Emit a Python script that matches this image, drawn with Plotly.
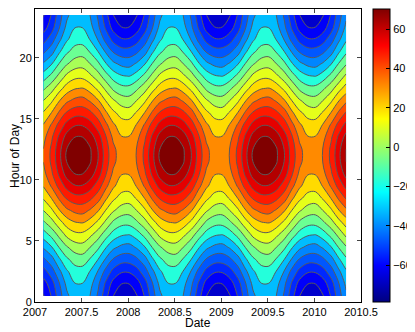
import plotly.graph_objects as go

# sample dates (decimal years), one per month
dates = [2007.09, 2007.18, 2007.26, 2007.34, 2007.43, 2007.51, 2007.59, 2007.68,
         2007.76, 2007.84, 2007.93, 2008.01, 2008.09, 2008.18, 2008.26, 2008.34,
         2008.43, 2008.51, 2008.59, 2008.68, 2008.76, 2008.84, 2008.93, 2009.01,
         2009.09, 2009.18, 2009.26, 2009.34, 2009.43, 2009.51, 2009.59, 2009.68,
         2009.76, 2009.84, 2009.93, 2010.01, 2010.09, 2010.18, 2010.26, 2010.34]

hours = [0.5, 1.5, 2.5, 3.5, 4.5, 5.5, 6.5, 7.5, 8.5, 9.5, 10.5, 11.5,
         12.5, 13.5, 14.5, 15.5, 16.5, 17.5, 18.5, 19.5, 20.5, 21.5, 22.5, 23.5]

# daily profile for each month of the year (Feb ... Jan), one value per hour
feb = [-63, -58, -49, -39, -28, -17, -6, 4, 13, 21, 26, 29, 29, 26, 21, 13, 4, -6, -17, -28, -39, -49, -58, -63]
mar = [-53, -49, -41, -32, -21, -10, 1, 11, 21, 30, 36, 39, 39, 36, 30, 21, 11, 1, -10, -21, -32, -41, -49, -53]
apr = [-41, -38, -31, -22, -12, -2, 9, 20, 30, 40, 47, 51, 51, 47, 40, 30, 20, 9, -2, -12, -22, -31, -38, -41]
may = [-31, -27, -22, -14, -5, 6, 16, 27, 38, 48, 57, 62, 62, 57, 48, 38, 27, 16, 6, -5, -14, -22, -27, -31]
jun = [-24, -21, -16, -9, 0, 10, 20, 31, 42, 53, 62, 68, 68, 62, 53, 42, 31, 20, 10, 0, -9, -16, -21, -24]
jul = [-24, -21, -16, -8, 1, 10, 21, 32, 42, 53, 62, 69, 69, 62, 53, 42, 32, 21, 10, 1, -8, -16, -21, -24]
aug = [-29, -26, -21, -13, -4, 6, 17, 28, 39, 49, 58, 63, 63, 58, 49, 39, 28, 17, 6, -4, -13, -21, -26, -29]
sep = [-39, -36, -30, -21, -11, -1, 10, 21, 32, 41, 49, 53, 53, 49, 41, 32, 21, 10, -1, -11, -21, -30, -36, -39]
oct_ = [-51, -47, -40, -30, -20, -9, 2, 12, 22, 31, 38, 41, 41, 38, 31, 22, 12, 2, -9, -20, -30, -40, -47, -51]
nov = [-62, -57, -48, -38, -27, -16, -6, 5, 14, 22, 27, 31, 31, 27, 22, 14, 5, -6, -16, -27, -38, -48, -57, -62]
dec = [-68, -62, -53, -42, -31, -20, -10, 0, 9, 16, 21, 24, 24, 21, 16, 9, 0, -10, -20, -31, -42, -53, -62, -68]
jan = [-69, -62, -53, -42, -32, -21, -10, -1, 8, 16, 21, 24, 24, 21, 16, 8, -1, -10, -21, -32, -42, -53, -62, -69]

profiles = [feb, mar, apr, may, jun, jul, aug, sep, oct_, nov, dec, jan]

x_ticks = [2007, 2007.5, 2008, 2008.5, 2009, 2009.5, 2010, 2010.5]
x_labels = ["2007", "2007.5", "2008", "2008.5", "2009", "2009.5", "2010", "2010.5"]
y_ticks = [0, 5, 10, 15, 20]
cbar_min, cbar_max = -78.7, 70.2
cbar_ticks = [-60, -40, -20, 0, 20, 40, 60]
cbar_labels = ["\u221260", "\u221240", "\u221220", "0", "20", "40", "60"]

# z[hour][date]
z = [[profiles[k % 12][i] for k in range(len(dates))] for i in range(len(hours))]

step = (cbar_max - cbar_min) / 18


def jet_rgb(f):
    r = min(max(min(4 * f - 1.5, -4 * f + 4.5), 0), 1)
    g = min(max(min(4 * f - 0.5, -4 * f + 3.5), 0), 1)
    b = min(max(min(4 * f + 0.5, -4 * f + 2.5), 0), 1)
    return "rgb(%d,%d,%d)" % (round(r * 255), round(g * 255), round(b * 255))


# MATLAB style jet for the colour bar
jet = [[i / 64, jet_rgb(i / 64)] for i in range(65)]
# position on the jet map of each filled band (below first level ... above last)
band_pos = [0.0, 0.075, 0.12, 0.165, 0.21, 0.255, 0.31, 0.41, 0.48, 0.54,
            0.60, 0.66, 0.74, 0.80, 0.85, 0.90, 0.95, 1.0]
band_scale = [[i / 17, jet_rgb(p)] for i, p in enumerate(band_pos)]

fig = go.Figure()
fig.add_trace(go.Contour(
    x=dates, y=hours, z=z,
    colorscale=band_scale,
    contours=dict(start=cbar_min + step, end=cbar_min + 17 * step + 0.01, size=step),
    line=dict(color="#5a5a5a", width=1),
    showscale=False,
    hoverinfo="skip",
))
# continuous colour bar like MATLAB's
fig.add_trace(go.Scatter(
    x=[2008], y=[5], mode="markers",
    marker=dict(size=0.1, opacity=0, color=[0], cmin=cbar_min, cmax=cbar_max, colorscale=jet,
                showscale=True,
                colorbar=dict(thickness=17, len=1, y=0.5, x=1.037, xanchor="left", xpad=0, ypad=0,
                              outlinewidth=1, outlinecolor="black", ticks="inside",
                              tickvals=cbar_ticks, ticktext=cbar_labels, ticklen=4,
                              tickcolor="black", tickfont=dict(size=11))),
    hoverinfo="skip", showlegend=False,
))
ax = dict(showline=True, linecolor="black", mirror="ticks", ticks="inside", ticklen=4,
          showgrid=False, zeroline=False, tickfont=dict(size=11, color="black"))
# page body has an 8px margin, so the figure is 8px smaller than the window
fig.update_layout(
    width=407, height=324, margin=dict(l=27, r=54, t=1, b=30, autoexpand=False),
    plot_bgcolor="white", paper_bgcolor="white",
    font=dict(family="Liberation Sans, Arial", size=11, color="black"),
    xaxis=dict(ax, range=[2007, 2010.5], tickvals=x_ticks, ticktext=x_labels),
    yaxis=dict(ax, range=[0, 24], tickvals=y_ticks),
    annotations=[
        dict(text="Date", x=0.5, y=-0.072, xref="paper", yref="paper",
             xanchor="center", yanchor="middle", showarrow=False, font=dict(size=12)),
        dict(text="Hour of Day", x=-0.063, y=0.5, xref="paper", yref="paper", textangle=-90,
             xanchor="center", yanchor="middle", showarrow=False, font=dict(size=12)),
    ],
)
fig.write_html("out.html")
